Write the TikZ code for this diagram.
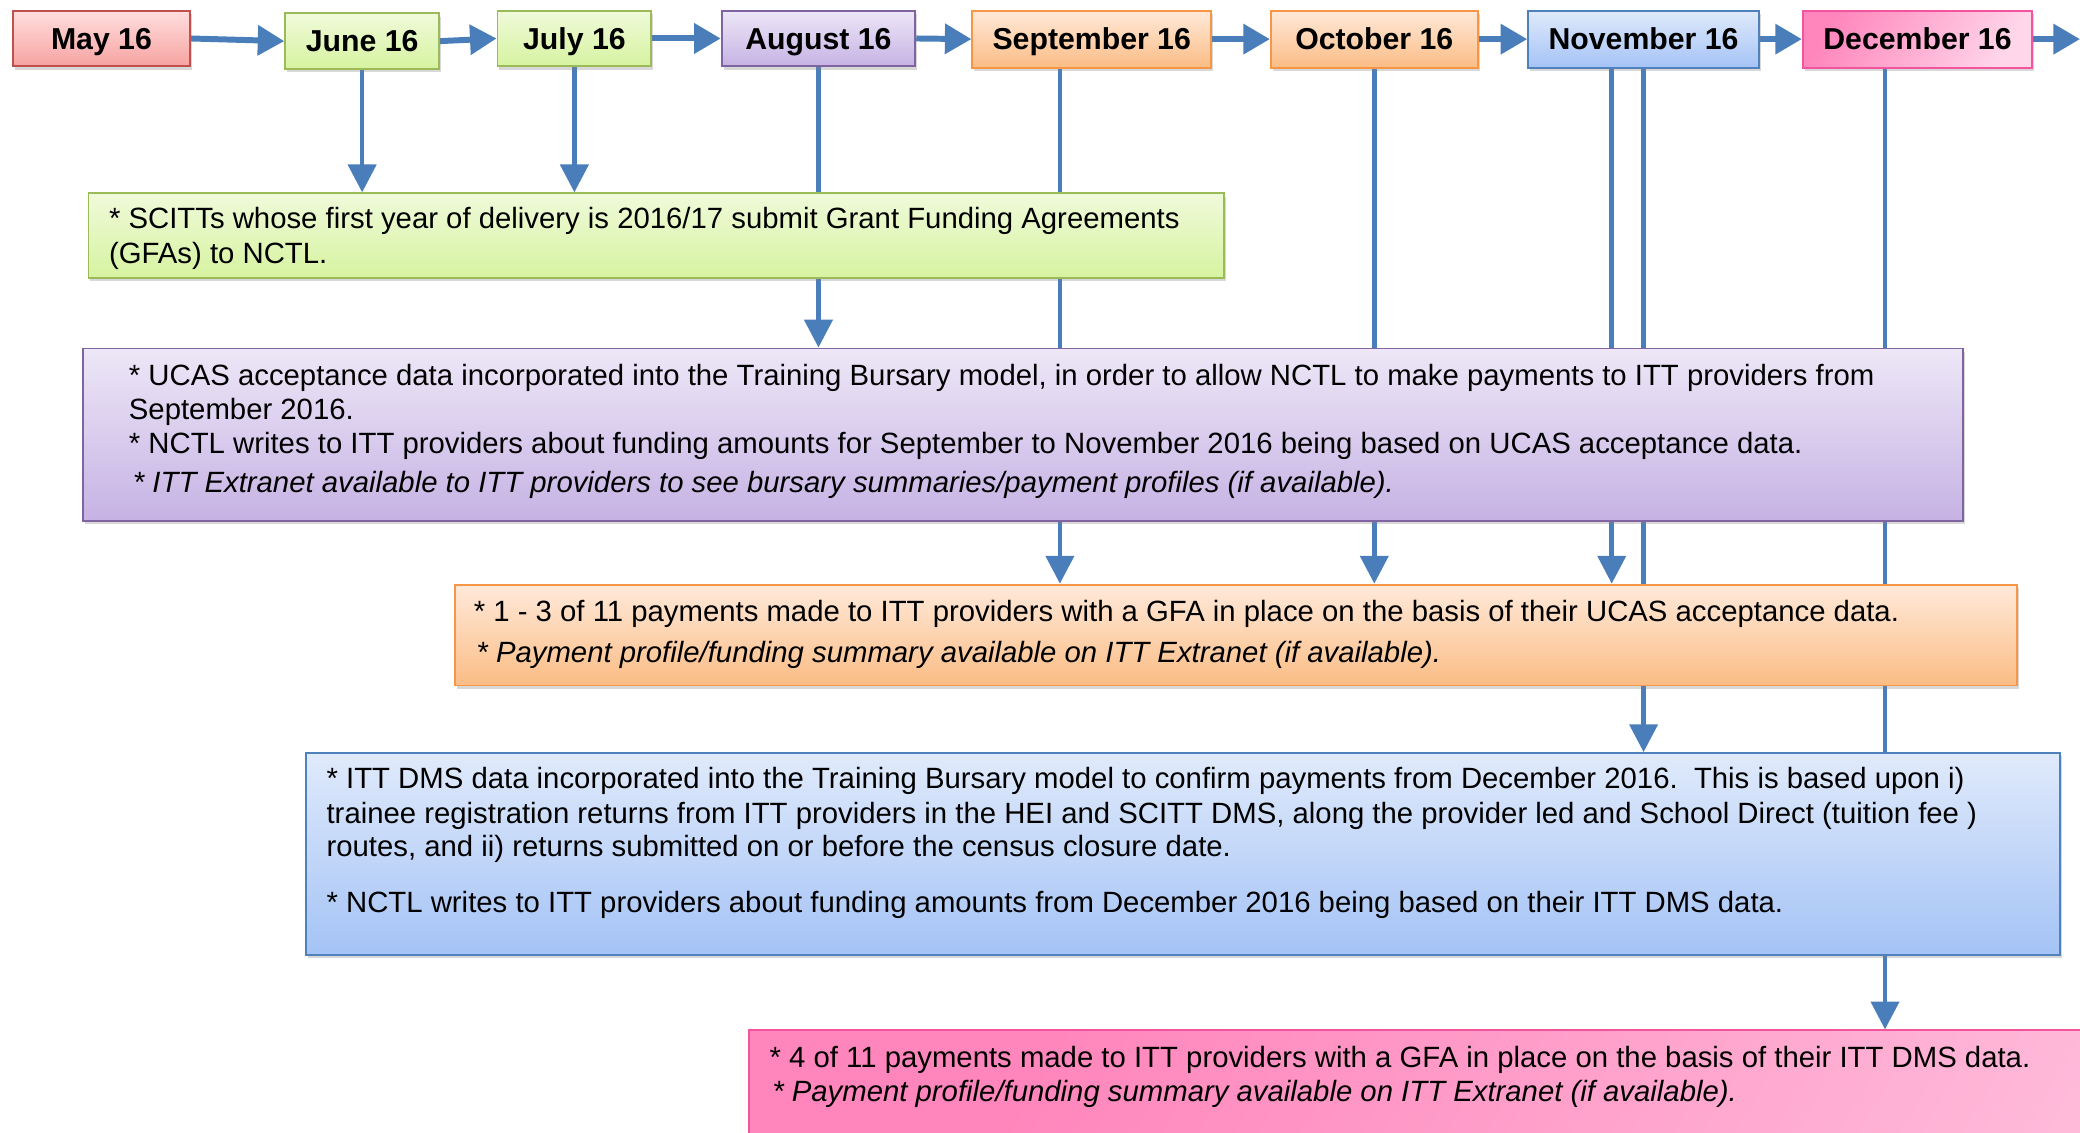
\documentclass[tikz,border=0pt]{standalone}
\usepackage{fontspec}
\setmainfont{Liberation Sans}
\usetikzlibrary{arrows.meta,shadows,calc}
\pgfdeclarelayer{back}
\pgfdeclarelayer{lines}
\pgfsetlayers{back,lines,main}
\definecolor{arrowblue}{HTML}{4A7EBB}
\definecolor{redtop}{HTML}{FFDEDE}
\definecolor{redbot}{HTML}{F6A3A1}
\definecolor{redline}{HTML}{C0504D}
\definecolor{greentop}{HTML}{F0FADA}
\definecolor{greenbot}{HTML}{D6F3A0}
\definecolor{greenline}{HTML}{9BBB59}
\definecolor{purptop}{HTML}{EDE7F7}
\definecolor{purpbot}{HTML}{C6B2E4}
\definecolor{purpline}{HTML}{8064A2}
\definecolor{orangetop}{HTML}{FFE9DA}
\definecolor{orangebot}{HTML}{FBBD85}
\definecolor{orangeline}{HTML}{F79646}
\definecolor{bluetop}{HTML}{E0EAFB}
\definecolor{bluebot}{HTML}{A4C3F6}
\definecolor{blueline}{HTML}{4F81BD}
\definecolor{pinkdark}{HTML}{FF86BC}
\definecolor{pinklight}{HTML}{FFD6EA}
\definecolor{pinkline}{HTML}{F2559E}
\begin{document}
\begin{tikzpicture}[x=1pt,y=-1pt,
  shade/.style={drop shadow={shadow xshift=1.5pt,shadow yshift=-2.5pt,opacity=0.3}},
  monthbox/.style={draw, line width=1.4pt, inner sep=0pt, shade,
    text height=16pt, text depth=0pt,
    font=\bfseries\fontsize{22.8}{26}\selectfont},
  bigbox/.style={draw, line width=1.4pt, inner sep=0pt, anchor=north west, shade},
  ln/.style={anchor=base west, inner sep=0pt, font=\fontsize{22.1}{25}\selectfont},
  lni/.style={anchor=base west, inner sep=0pt, font=\itshape\fontsize{22.1}{25}\selectfont},
  harrow/.style={arrowblue, line width=4.5pt, -{Triangle[length=20pt,width=22pt]}},
  varrow/.style={arrowblue, line width=3.5pt, -{Triangle[length=21pt,width=21pt]}},
  redfill/.style={top color=redtop, bottom color=redbot, draw=redline},
  greenfill/.style={top color=greentop, bottom color=greenbot, draw=greenline},
  purpfill/.style={top color=purptop, bottom color=purpbot, draw=purpline},
  orangefill/.style={top color=orangetop, bottom color=orangebot, draw=orangeline},
  bluefill/.style={top color=bluetop, bottom color=bluebot, draw=blueline},
  pinkfill/.style={left color=pinkdark, right color=pinklight, shading angle=60, draw=pinkline},
]
\useasboundingbox (0,0) rectangle (1568,854);
\clip (0,0) rectangle (1568,854);
\begin{pgfonlayer}{back}
\fill[white] (0,0) rectangle (1568,854);
\end{pgfonlayer}

% month boxes
\node[monthbox, redfill, minimum width=133pt, minimum height=42pt] (may) at (76.5,29) {May 16};
\node[monthbox, greenfill, minimum width=116pt, minimum height=42pt] (jun) at (273,31) {June 16};
\node[monthbox, greenfill, minimum width=116pt, minimum height=42pt] (jul) at (433,29) {July 16};
\node[monthbox, purpfill, minimum width=146pt, minimum height=42pt] (aug) at (617,29) {August 16};
\node[monthbox, orangefill, minimum width=180pt, minimum height=43pt] (sep) at (823,29.5) {September 16};
\node[monthbox, orangefill, minimum width=156pt, minimum height=43pt] (oct) at (1036,29.5) {October 16};
\node[monthbox, bluefill, minimum width=174pt, minimum height=43pt] (nov) at (1239,29.5) {November 16};
\node[monthbox, pinkfill, minimum width=173pt, minimum height=43pt] (dec) at (1445.5,29.5) {December 16};

% big boxes
\node[bigbox, greenfill, minimum width=856pt, minimum height=64pt] (green) at (66,145) {};
\node[bigbox, purpfill, minimum width=1417pt, minimum height=130pt] (purple) at (62,262) {};
\node[bigbox, orangefill, minimum width=1178pt, minimum height=76pt] (orange) at (342,440) {};
\node[bigbox, bluefill, minimum width=1322pt, minimum height=152pt] (blue) at (230,567) {};
\node[bigbox, pinkfill, minimum width=1600pt, minimum height=200pt] (pink) at (564,776) {};

% texts
\node[ln] (g1) at (82,172.5) {* SCITTs whose first year of delivery is 2016/17 submit Grant Funding Agreements};
\node[ln] (g2) at (82,198.5) {(GFAs) to NCTL.};
\node[ln] (p1) at (97,290.5) {* UCAS acceptance data incorporated into the Training Bursary model, in order to allow NCTL to make payments to ITT providers from};
\node[ln] (p2) at (97,316.5) {September 2016.};
\node[ln] (p3) at (97,341.5) {* NCTL writes to ITT providers about funding amounts for September to November 2016 being based on UCAS acceptance data.};
\node[lni] (p4) at (100,371.5) {* ITT Extranet available to ITT providers to see bursary summaries/payment profiles (if available).};
\node[ln] (o1) at (357,468.5) {* 1 - 3 of 11 payments made to ITT providers with a GFA in place on the basis of their UCAS acceptance data.};
\node[lni] (o2) at (359,499.5) {* Payment profile/funding summary available on ITT Extranet (if available).};
\node[ln] (b1) at (246,594.5) {* ITT DMS data incorporated into the Training Bursary model to confirm payments from December 2016.\ \ This is based upon i)};
\node[ln] (b2) at (246,620.5) {trainee registration returns from ITT providers in the HEI and SCITT DMS, along the provider led and School Direct (tuition fee )};
\node[ln] (b3) at (246,645.5) {routes, and ii) returns submitted on or before the census closure date.};
\node[ln] (b4) at (246,687.5) {* NCTL writes to ITT providers about funding amounts from December 2016 being based on their ITT DMS data.};
\node[ln] (k1) at (580,804.5) {* 4 of 11 payments made to ITT providers with a GFA in place on the basis of their ITT DMS data.};
\node[lni] (k2) at (582,830.5) {* Payment profile/funding summary available on ITT Extranet (if available).};

% connectors
\coordinate (rightend) at (1568,29.5);
\coordinate (sepx) at ([xshift=-24pt]sep.south);
\coordinate (novl) at ([xshift=-24pt]nov.south);
\coordinate (decx) at ([xshift=-24.5pt]dec.south);
\begin{pgfonlayer}{lines}
\draw[harrow] (may.east) -- (jun.west);
\draw[harrow] (jun.east) -- (jul.west);
\draw[harrow] (jul.east) -- (aug.west);
\draw[harrow] (aug.east) -- (sep.west);
\draw[harrow] (sep.east) -- (oct.west);
\draw[harrow] (oct.east) -- (nov.west);
\draw[harrow] (nov.east) -- (dec.west);
\draw[harrow] (dec.east) -- (rightend);
\draw[varrow] (jun.south) -- (jun.south |- green.north);
\draw[varrow] (jul.south) -- (jul.south |- green.north);
\draw[varrow] (aug.south) -- (aug.south |- purple.north);
\draw[varrow] (sepx) -- (sepx |- orange.north);
\draw[varrow] (oct.south) -- (oct.south |- orange.north);
\draw[varrow] (novl) -- (novl |- orange.north);
\draw[varrow] (nov.south) -- (nov.south |- blue.north);
\draw[varrow] (decx) -- (decx |- pink.north);
\end{pgfonlayer}
\end{tikzpicture}
\end{document}
